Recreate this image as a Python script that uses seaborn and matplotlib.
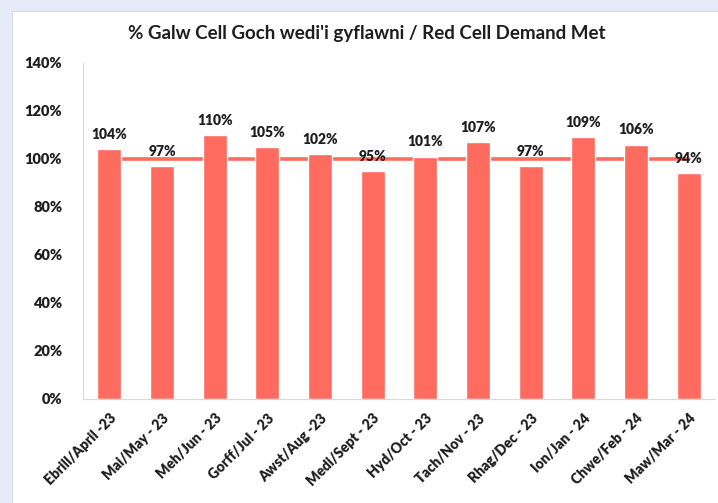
import numpy as np
import pandas as pd
import matplotlib
matplotlib.use('Agg')
import matplotlib.pyplot as plt
import seaborn as sns
from matplotlib.patches import Rectangle

# Data
months = ['Ebrill/April -23', 'Mai/May - 23', 'Meh/Jun - 23', 'Gorff/Jul - 23',
          'Awst/Aug -23', 'Medi/Sept - 23', 'Hyd/Oct - 23', 'Tach/Nov - 23',
          'Rhag/Dec - 23', 'Ion/Jan - 24', 'Chwe/Feb - 24', 'Maw/Mar - 24']
demand_met = [1.04, 0.97, 1.10, 1.05, 1.02, 0.95, 1.01, 1.07, 0.97, 1.09, 1.06, 0.94]
target = [1.00] * len(months)
y_ticks = [0, 0.2, 0.4, 0.6, 0.8, 1.0, 1.2, 1.4]
title = "% Galw Cell Goch wedi'i gyflawni / Red Cell Demand Met"

bar_colour = '#FF6B5E'
text_colour = '#1E1E1E'

sns.set_style('white')
plt.rcParams['font.family'] = ['Lato', 'DejaVu Sans']

df = pd.DataFrame({'month': months, 'met': demand_met})

fig = plt.figure(figsize=(7.18, 5.03), dpi=100)
fig.patch.set_facecolor('#E5EAF9')
# white chart panel
fig.patches.append(Rectangle((12 / 718, 0), 1, 1 - 11 / 503, transform=fig.transFigure,
                             facecolor='white', edgecolor='#D0D4E0', linewidth=0.6, zorder=0))

ax = fig.add_axes([83 / 718, 1 - 399 / 503, (715 - 83) / 718, (399 - 63) / 503])
ax.set_facecolor('none')
ax.set_zorder(2)

# target line behind the bars
ax.plot(range(len(months)), target, color=bar_colour, linewidth=2.6,
        solid_capstyle='round', zorder=1)

sns.barplot(data=df, x='month', y='met', color=bar_colour, saturation=1,
            width=0.46, ax=ax, zorder=2)

for i, v in enumerate(demand_met):
    ax.text(i, v + 0.035, f'{v * 100:.0f}%', ha='center', va='bottom',
            fontsize=10, fontweight='heavy', color=text_colour)

ax.set_ylim(0, 1.4)
ax.set_xlim(-0.5, len(months) - 0.5)
ax.set_yticks(y_ticks)
ax.set_yticklabels([f'{t * 100:.0f}%' for t in y_ticks], fontsize=10.5,
                   fontweight='heavy', color=text_colour)
ax.set_xticks(range(len(months)))
ax.set_xticklabels(months, rotation=45, ha='right', rotation_mode='anchor',
                   fontsize=10, fontweight='heavy', color=text_colour)
ax.set_xticks(np.arange(-0.5, len(months)), minor=True)
ax.tick_params(axis='x', which='major', length=0, pad=9)
ax.tick_params(axis='x', which='minor', length=5, color='#D9D9D9', width=0.8)
ax.tick_params(axis='y', length=0, pad=15)
ax.set_xlabel('')
ax.set_ylabel('')

sns.despine(ax=ax)
for side in ['left', 'bottom']:
    ax.spines[side].set_color('#D9D9D9')
    ax.spines[side].set_linewidth(0.8)

fig.text(367 / 718, 1 - 34 / 503, title, ha='center', va='center',
         fontsize=13.5, fontweight='bold', color=text_colour, zorder=3)

fig.savefig('out.png', dpi=100)
